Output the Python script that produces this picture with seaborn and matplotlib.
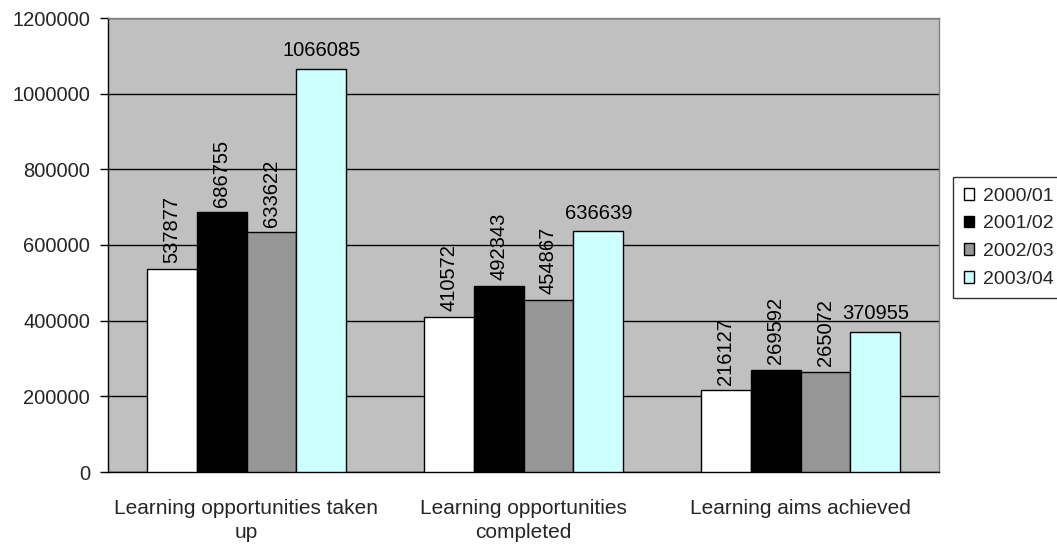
import matplotlib
matplotlib.use("Agg")
import matplotlib.pyplot as plt
import seaborn as sns
import pandas as pd
from matplotlib.patches import Patch

categories = ["Learning opportunities taken\nup", "Learning opportunities\ncompleted", "Learning aims achieved"]
years = ["2000/01", "2001/02", "2002/03", "2003/04"]
v2000 = [537877, 410572, 216127]
v2001 = [686755, 492343, 269592]
v2002 = [633622, 454867, 265072]
v2003 = [1066085, 636639, 370955]
colors = ["#FFFFFF", "#000000", "#969696", "#CCFFFF"]

rows = []
for yr, vals in zip(years, [v2000, v2001, v2002, v2003]):
    for c, v in zip(categories, vals):
        rows.append({"cat": c, "year": yr, "value": v})
df = pd.DataFrame(rows)

sns.set_theme(style="white")
plt.rcParams['font.family'] = ['Liberation Sans', 'DejaVu Sans']

NUM_FS = 14.5
CAT_FS = 15
LEG_FS = 14

fig = plt.figure(figsize=(10.57, 5.44), dpi=100)
ax = fig.add_axes([108/1057, 1-472/544, (939-108)/1057, (472-18)/544])
ax.set_facecolor("#C0C0C0")

sns.barplot(data=df, x="cat", y="value", hue="year", palette=colors,
            width=0.722, edgecolor="black", linewidth=1, ax=ax,
            legend=False, zorder=3, saturation=1)

for i, cont in enumerate(ax.containers):
    rot = 0 if i == 3 else 90
    ax.bar_label(cont, labels=[str(int(b.get_height())) for b in cont],
                 rotation=rot, padding=4 if rot == 90 else 6, fontsize=NUM_FS, color="black")

ax.set_ylim(0, 1200000)
ax.set_yticks(range(0, 1200001, 200000))
ax.set_yticklabels([str(v) for v in range(0, 1200001, 200000)], fontsize=NUM_FS)
ax.set_xlim(-0.5, 2.5)
ax.yaxis.grid(True, color="black", linewidth=1, zorder=0)
ax.set_axisbelow(True)
ax.set_xlabel("")
ax.set_ylabel("")
ax.tick_params(axis="x", which="major", length=0, pad=19.5, labelsize=CAT_FS)
ax.set_xticks([-0.5, 0.5, 1.5, 2.5], minor=True)
ax.tick_params(axis="x", which="minor", length=6, direction="out", color="black", width=1)
ax.tick_params(axis="y", length=6, direction="out", color="black", width=1, left=True, pad=7)
for lbl in ax.get_xticklabels():
    lbl.set_ha("center")
    lbl.set_linespacing(1.35)
for s in ["left", "bottom"]:
    ax.spines[s].set_color("black")
    ax.spines[s].set_linewidth(1)
for s in ["top", "right"]:
    ax.spines[s].set_color("#808080")
    ax.spines[s].set_linewidth(1)

handles = [Patch(facecolor=c, edgecolor="black", label=y) for c, y in zip(colors, years)]
leg = fig.legend(handles=handles, loc="upper left", bbox_to_anchor=(953/1057, 1-177/544),
                 frameon=True, fancybox=False, edgecolor="black", fontsize=LEG_FS,
                 handlelength=0.55, handleheight=0.55, handletextpad=0.45,
                 borderpad=0.55, labelspacing=0.55, borderaxespad=0)
leg.get_frame().set_linewidth(1)

fig.savefig("out.png", dpi=100, facecolor="white")
